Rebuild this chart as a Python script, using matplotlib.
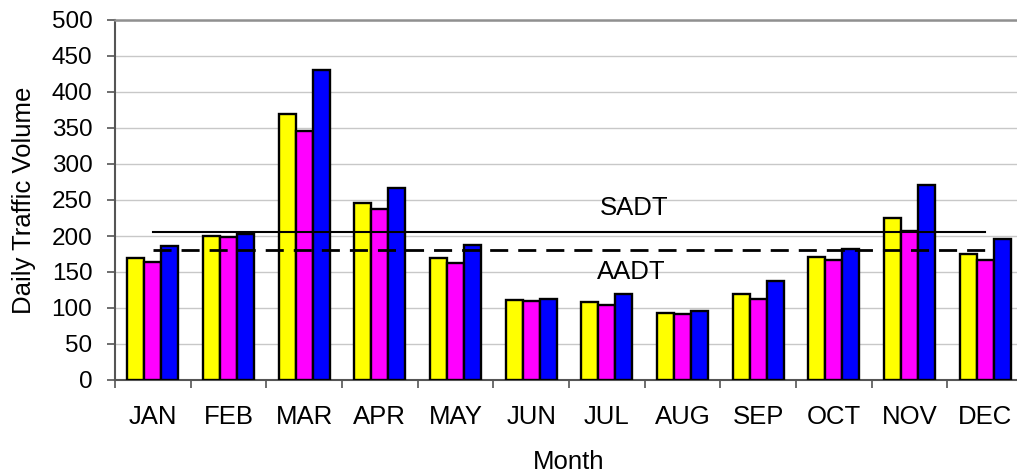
import matplotlib
matplotlib.use("Agg")
import matplotlib.pyplot as plt
import numpy as np

plt.rcParams['font.family'] = ['Liberation Sans', 'DejaVu Sans']

months = ["JAN", "FEB", "MAR", "APR", "MAY", "JUN", "JUL", "AUG", "SEP", "OCT", "NOV", "DEC"]
series_yellow = [170, 200, 370, 246, 170, 111, 108, 93, 119, 171, 225, 175]
series_magenta = [164, 199, 346, 237, 162, 110, 104, 92, 112, 167, 207, 167]
series_blue = [186, 203, 430, 266, 188, 113, 120, 96, 137, 182, 271, 196]
sadt = 206
aadt = 180
yticks = [0, 50, 100, 150, 200, 250, 300, 350, 400, 450, 500]

fig = plt.figure(figsize=(10.17, 4.76), dpi=100)
ax = fig.add_axes([115/1017, 1-380/476, (1023-115)/1017, 360/476])

x = np.arange(len(months))
w = 0.225
colors = ["#ffff00", "#ff00ff", "#0000ff"]
for i, (vals, c) in enumerate(zip([series_yellow, series_magenta, series_blue], colors)):
    ax.bar(x + (i - 1) * w, vals, width=w, color=c, edgecolor="black", linewidth=1.7, zorder=3)

ax.plot([x[0], x[-1]], [sadt, sadt], color="black", linewidth=1.5, zorder=4)
ln, = ax.plot([x[0], x[-1]], [aadt, aadt], color="black", linewidth=2.0, zorder=4)
ln.set_dashes([6.5, 3.6])

ax.text(6.36, 239, "SADT", ha="center", va="center", fontsize=18.5)
ax.text(6.32, 150, "AADT", ha="center", va="center", fontsize=18.5)

ax.set_xlim(-0.5, len(months) - 0.5)
ax.set_ylim(0, 500)
ax.set_yticks(yticks)
ax.set_yticklabels([str(v) for v in yticks], fontsize=17.5)
ax.set_xticks(x)
ax.set_xticklabels(months, fontsize=18.5)
ax.set_xticks(np.arange(len(months) + 1) - 0.5, minor=True)
ax.tick_params(axis="x", which="major", length=0, pad=18)
ax.tick_params(axis="x", which="minor", length=6, width=1.2, color="#555555", direction="out")
ax.tick_params(axis="y", length=5.8, width=1.2, color="#555555", direction="out", pad=10.5)

ax.yaxis.grid(True, color="#c8c8c8", linewidth=1, zorder=0)
ax.set_axisbelow(True)
for s in ["left", "bottom"]:
    ax.spines[s].set_color("#555555")
    ax.spines[s].set_linewidth(1.5)
ax.spines["top"].set_color("#909090")
ax.spines["top"].set_linewidth(1.8)
ax.spines["right"].set_visible(False)

ax.set_ylabel("Daily Traffic Volume", fontsize=18.5, labelpad=11)
ax.set_xlabel("Month", fontsize=18.5, labelpad=15)

fig.savefig("out.png", dpi=100)
